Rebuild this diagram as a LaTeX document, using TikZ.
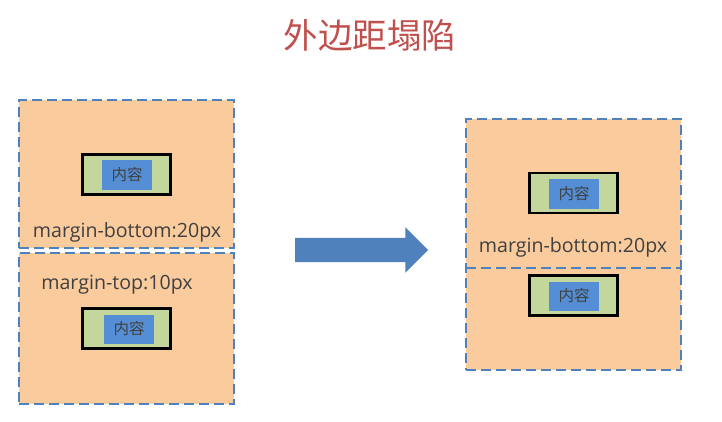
\documentclass[tikz,border=0pt]{standalone}
\usepackage{fontspec}
\setmainfont{Noto Sans CJK SC}
\newfontfamily\latinfont{Open Sans}
\usepackage{tikz}
\usetikzlibrary{shapes}
\usetikzlibrary{shapes.arrows}
\usetikzlibrary{positioning}
\definecolor{peach}{RGB}{249,203,157}
\definecolor{dashblue}{RGB}{79,129,189}
\definecolor{boxgreen}{RGB}{195,214,155}
\definecolor{contentblue}{RGB}{85,142,213}
\definecolor{titlered}{RGB}{192,80,77}
\definecolor{textgrey}{RGB}{64,64,64}
\tikzstyle{block}=[rectangle,draw=dashblue,fill=peach,dash pattern=on 10pt off 5pt,line width=2.6pt,minimum width=215pt,inner sep=0pt]
\tikzstyle{border}=[rectangle,draw=black,fill=boxgreen,line width=2.4pt,minimum width=88pt,minimum height=40pt,inner sep=0pt]
\tikzstyle{content}=[rectangle,fill=contentblue,minimum width=50pt,minimum height=29pt,inner sep=0pt,text=textgrey,font=\fontsize{15.5}{17}\selectfont]
\tikzstyle{label}=[text=textgrey,font=\latinfont\fontsize{19.6}{22}\selectfont]
\tikzstyle{divider}=[draw=dashblue,dash pattern=on 10pt off 5pt,line width=2.6pt]

\begin{document}
\begin{tikzpicture}[x=1pt,y=-1pt]
      \useasboundingbox (0,0) rectangle (722,422);
      \node[font=\fontsize{34.5}{40}\selectfont,text=titlered] at (370,35) (title) {外边距塌陷};
      % before
      \node[block,minimum height=148pt] at (126.5,174) (top) {};
      \node[block,minimum height=151pt] at (126.5,328.5) (bottom) {};
      \node[border] at (126.5,174.5) (topbox) {};
      \node[content] at (127,175) (topin) {内容};
      \node[label] at (127,232) (toplabel) {margin-bottom:20px};
      \node[border] at (126.5,328.5) (bottombox) {};
      \node[content] at (129,329) (bottomin) {内容};
      \node[label] at (117,284.5) (bottomlabel) {margin-top:10px};
      % arrow
      \node[single arrow,fill=dashblue,draw=none,inner xsep=0pt,inner ysep=12pt,minimum height=133pt,single arrow head extend=10.5pt] at (355.5,250) (arrow) {};
      % after
      \node[block,minimum height=251pt] at (573.5,244.5) (merged) {};
      \coordinate (d1) at (466,268);
      \coordinate (d2) at (681,268);
      \draw[divider] (d1) -- (d2);
      \node[border] at (573.5,193) (mergedbox1) {};
      \node[content] at (574,194) (mergedin1) {内容};
      \node[label] at (573,247.5) (mergedlabel) {margin-bottom:20px};
      \node[border] at (573.5,295.5) (mergedbox2) {};
      \node[content] at (574,296) (mergedin2) {内容};
    \end{tikzpicture}
\end{document}
